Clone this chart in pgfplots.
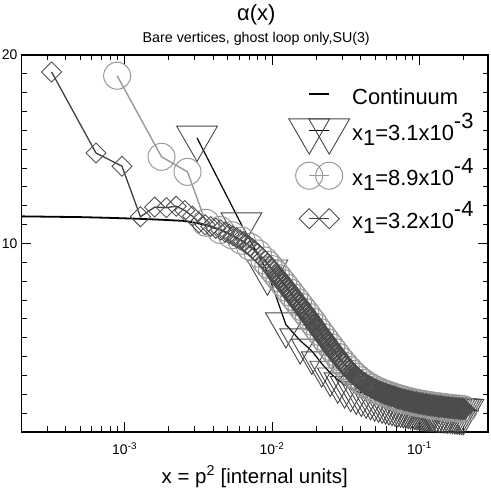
\documentclass[border=0pt]{standalone}
\usepackage{fontspec}
\setmainfont{Liberation Sans}
\usepackage{pgfplots}
\pgfplotsset{compat=1.18}

\begin{document}
\begin{tikzpicture}
\begin{axis}[
    at={(0,0)}, anchor=south west,
    scale only axis,
    width=466.5bp, height=377bp,
    xmode=log,
    xmin=2e-4, xmax=0.291,
    ymin=0, ymax=20,
    clip=false,
    axis line style={line width=1.2bp},
    tick style={line width=1bp, black},
    tick align=inside,
    major tick length=10bp,
    minor tick length=5.5bp,
    xtick={1e-3,1e-2,1e-1},
    xticklabels={10\textsuperscript{-3},10\textsuperscript{-2},10\textsuperscript{-1}},
    minor xtick={2e-4,3e-4,4e-4,5e-4,6e-4,7e-4,8e-4,9e-4,
                 2e-3,3e-3,4e-3,5e-3,6e-3,7e-3,8e-3,9e-3,
                 2e-2,3e-2,4e-2,5e-2,6e-2,7e-2,8e-2,9e-2,2e-1},
    ytick={0,10,20},
    yticklabels={{},10,20},
    minor y tick num=9,
    xticklabel style={font=\fontsize{14}{16}\selectfont, inner sep=0pt, yshift=-10bp},
    yticklabel style={font=\fontsize{14}{16}\selectfont, inner sep=0pt, xshift=-4bp},
    xlabel={x = p\textsuperscript{2} [internal units]},
    xlabel style={font=\fontsize{20.5}{24}\selectfont, at={(axis description cs:0.5,0)}, anchor=base, yshift=-51bp},
    legend style={draw=none, fill=none, inner sep=0pt,
        at={(axis description cs:0.5713,0.9324)}, anchor=north west,
        font=\fontsize{22}{26}\selectfont, row sep=0pt, column sep=2bp,
        nodes={inner sep=0pt, text depth={}}},
    legend cell align=left,
    legend image code/.code={%
        \draw[#1, overlay] plot coordinates {(0bp,0bp) (20bp,0bp)};
        \path[draw=none, fill=none] (-21bp,0bp) (41bp,0.5bp);},
]
% continuum
\addplot[black, line width=1.8bp, no marks] table {
x y
1.995e-4 11.44
3.162e-4 11.42
5.012e-4 11.40
7.943e-4 11.36
1.259e-3 11.31
1.778e-3 11.26
2.512e-3 11.20
2.818e-3 11.14
3.162e-3 11.07
3.548e-3 10.98
3.981e-3 10.86
4.467e-3 10.72
5.012e-3 10.55
5.623e-3 10.35
6.310e-3 10.12
7.079e-3 9.84
7.943e-3 9.50
8.913e-3 9.10
0.01 8.64
0.01122 8.15
0.012589 7.65
0.014125 7.14
0.015849 6.63
0.017783 6.11
0.019953 5.56
0.022387 5.03
0.025119 4.50
0.028184 3.98
0.031623 3.50
0.035481 3.08
0.039811 2.74
0.044668 2.46
0.050119 2.25
0.056234 2.08
0.063096 1.94
0.070795 1.81
0.079433 1.70
0.089125 1.60
0.1 1.52
0.1122 1.45
0.12589 1.39
0.14125 1.34
0.15849 1.29
0.17783 1.25
0.19953 1.21
0.22387 1.17
0.25119 1.13
};
\addlegendentry{\rule[-2bp]{0pt}{26bp}Continuum}
% x1 = 3.1e-3
\addplot[black, line width=1.2bp, mark=triangle, mark size=23.5bp,
    mark options={rotate=180, draw=black!72, line width=0.9bp, solid}] table {
x y
0.0031 15.6
0.0062 11.0
0.0093 8.5
0.0124 5.7
0.0155 4.85
0.0186 4.30
0.0217 3.63
0.0248 3.13
0.0279 2.77
0.031 2.51
0.0341 2.32
0.0372 2.18
0.0403 2.065
0.0434 1.975
0.0465 1.895
0.0496 1.82
0.0527 1.76
0.0558 1.71
0.0589 1.66
0.062 1.615
0.0651 1.578
0.0682 1.546
0.0713 1.516
0.0744 1.49
0.0775 1.465
0.0806 1.442
0.0837 1.423
0.0868 1.404
0.0899 1.386
0.093 1.371
0.0961 1.357
0.0992 1.344
0.1023 1.33
0.1054 1.317
0.1085 1.305
0.1116 1.292
0.1147 1.282
0.1178 1.273
0.1209 1.264
0.124 1.255
0.1302 1.238
0.1364 1.222
0.1426 1.207
0.1488 1.192
0.155 1.178
0.1612 1.164
0.1674 1.151
0.1736 1.138
0.1798 1.127
0.186 1.118
0.1922 1.11
0.1984 1.10
};
\addlegendentry{\rule[-14bp]{0pt}{48bp}x\raisebox{-5bp}{1}=3.1x10\raisebox{12bp}{-3}}
% x1 = 8.9e-4
\addplot[black!40, line width=1.4bp, mark=o, mark size=13.5bp,
    mark options={draw=black!40, line width=1bp, solid}] table {
x y
8.9e-4 18.9
1.78e-3 14.6
2.67e-3 13.8
3.56e-3 11.1
4.45e-3 10.72
5.34e-3 10.44
6.23e-3 10.15
7.12e-3 9.82
8.01e-3 9.47
8.9e-3 9.10
9.441e-3 8.87
0.01 8.64
0.010593 8.395
0.01122 8.15
0.011885 7.90
0.012589 7.65
0.013335 7.395
0.014125 7.14
0.014962 6.885
0.015849 6.63
0.016788 6.37
0.017783 6.11
0.018836 5.85
0.019953 5.56
0.021135 5.295
0.022387 5.03
0.023714 4.765
0.025119 4.50
0.026607 4.24
0.028184 3.98
0.029854 3.74
0.031623 3.50
0.033497 3.29
0.035481 3.08
0.037584 2.91
0.039811 2.74
0.04217 2.60
0.044668 2.46
0.047315 2.355
0.050119 2.25
0.053088 2.165
0.056234 2.08
0.059566 2.01
0.063096 1.94
0.066834 1.875
0.070795 1.81
0.074989 1.755
0.079433 1.70
0.08414 1.65
0.089125 1.60
0.094406 1.56
0.1 1.52
0.10593 1.485
0.1122 1.45
0.11885 1.42
0.12589 1.39
0.13335 1.365
0.14125 1.34
0.14962 1.315
0.15849 1.29
0.16788 1.27
0.17783 1.25
0.18836 1.23
0.19953 1.21
};
\addlegendentry{\rule[-11bp]{0pt}{42bp}x\raisebox{-5bp}{1}=8.9x10\raisebox{12bp}{-4}}
% x1 = 3.2e-4, first points
\addplot[black!75, line width=1.3bp, mark=square, mark size=7.1bp,
    mark options={rotate=45, draw=black!68, line width=0.9bp, solid}] table {
x y
3.2e-4 19.1
6.4e-4 14.8
9.6e-4 14.1
1.28e-3 11.42
1.6e-3 11.93
1.92e-3 11.9
2.24e-3 11.98
2.56e-3 11.75
2.88e-3 11.45
3.2e-3 11.1
3.52e-3 10.99
3.84e-3 10.90
4.16e-3 10.81
4.48e-3 10.72
4.8e-3 10.61
5.12e-3 10.51
5.44e-3 10.41
5.76e-3 10.30
6.08e-3 10.19
6.4e-3 10.09
6.72e-3 9.97
7.04e-3 9.85
7.36e-3 9.73
7.68e-3 9.60
8.0e-3 9.48
8.32e-3 9.34
8.64e-3 9.21
8.96e-3 9.08
9.28e-3 8.94
9.6e-3 8.80
9.92e-3 8.67
0.01024 8.54
0.01056 8.41
0.01088 8.28
};
\addlegendentry{\rule[-12bp]{0pt}{44bp}x\raisebox{-5bp}{1}=3.2x10\raisebox{12bp}{-4}}
% x1 = 3.2e-4, dense part of the same series
\addplot[black!75, line width=1.3bp, mark=square, mark size=7.1bp, forget plot,
    mark options={rotate=45, draw=black!70, line width=1.6bp, solid}] table {
x y
0.01088 8.28
0.011220 8.150
0.011548 8.025
0.011885 7.900
0.012232 7.775
0.012589 7.650
0.012957 7.523
0.013335 7.395
0.013725 7.268
0.014125 7.140
0.014538 7.013
0.014962 6.885
0.015399 6.758
0.015849 6.630
0.016312 6.500
0.016788 6.370
0.017278 6.240
0.017783 6.110
0.018302 5.980
0.018836 5.850
0.019387 5.705
0.019953 5.560
0.020535 5.428
0.021135 5.295
0.021752 5.163
0.022387 5.030
0.023041 4.898
0.023714 4.765
0.024406 4.633
0.025119 4.500
0.025852 4.370
0.026607 4.240
0.027384 4.110
0.028184 3.980
0.029007 3.860
0.029854 3.740
0.030726 3.620
0.031623 3.500
0.032546 3.395
0.033497 3.290
0.034475 3.185
0.035481 3.080
0.036517 2.995
0.037584 2.910
0.038681 2.825
0.039811 2.740
0.040973 2.670
0.042170 2.600
0.043401 2.530
0.044668 2.460
0.045973 2.408
0.047315 2.355
0.048697 2.303
0.050119 2.250
0.051582 2.208
0.053088 2.165
0.054639 2.123
0.056234 2.080
0.057876 2.045
0.059566 2.010
0.061306 1.975
0.063096 1.940
0.064938 1.908
0.066834 1.875
0.068786 1.843
0.070795 1.810
0.072862 1.783
0.074989 1.755
0.077179 1.728
0.079433 1.700
0.081752 1.675
0.084140 1.650
0.086596 1.625
0.089125 1.600
0.091728 1.580
0.094406 1.560
0.097163 1.540
0.100000 1.520
0.10292 1.503
0.10593 1.485
0.10902 1.468
0.11220 1.450
0.11548 1.435
0.11885 1.420
0.12232 1.405
0.12589 1.390
0.12957 1.378
0.13335 1.365
0.13725 1.353
0.14125 1.340
0.14538 1.328
0.14962 1.315
0.15399 1.303
0.15849 1.290
0.16312 1.280
0.16788 1.270
0.17278 1.260
0.17783 1.250
0.18302 1.240
0.18836 1.230
0.19387 1.220
0.19953 1.210
};
\node[anchor=base, font=\fontsize{22}{26}\selectfont] at (rel axis cs:0.5,1) [xshift=1.5bp, yshift=34.4bp] {α(x)};
\node[anchor=base, font=\fontsize{14.3}{17}\selectfont] at (rel axis cs:0.5,1) [xshift=1.5bp, yshift=12bp] {Bare vertices, ghost loop only,SU(3)};
\end{axis}
\pgfresetboundingbox
\path[use as bounding box] (-21.5bp,-59bp) rectangle (469.5bp,432bp);
\end{tikzpicture}
\end{document}
